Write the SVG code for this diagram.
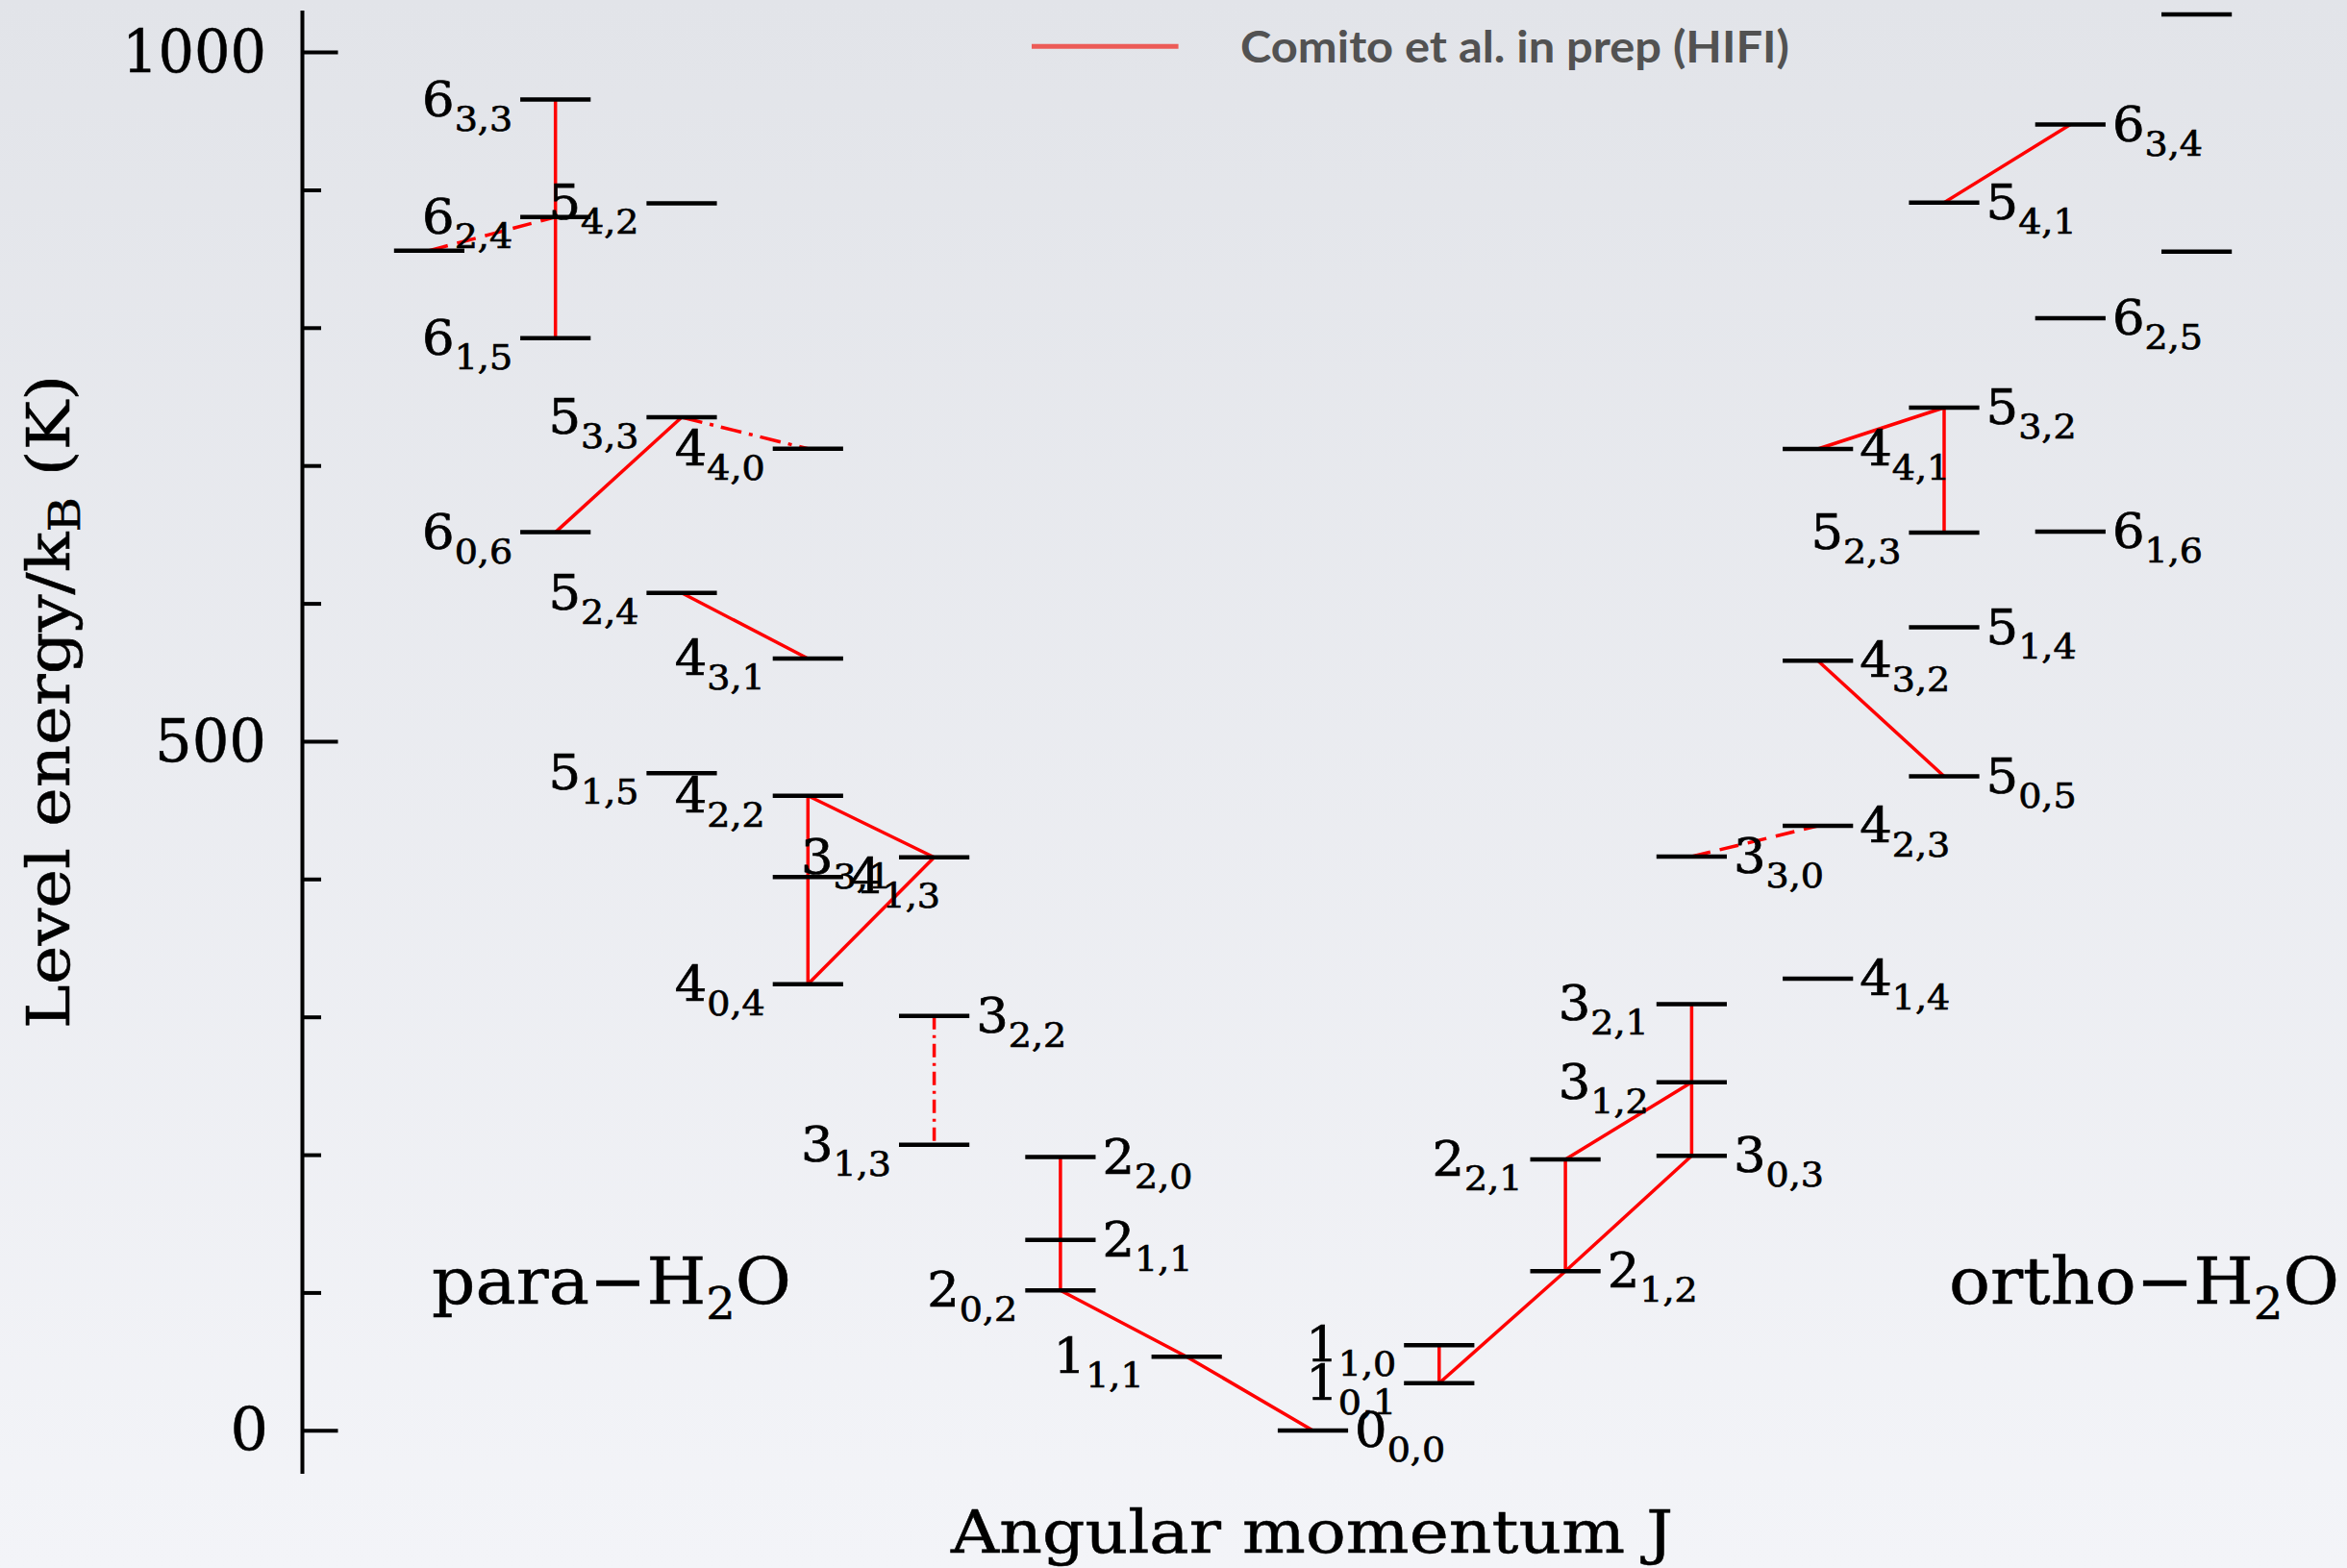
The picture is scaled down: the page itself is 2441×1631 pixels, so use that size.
<svg xmlns="http://www.w3.org/2000/svg" width="2441" height="1631" viewBox="0 0 2441 1631">
<defs>
<linearGradient id="bg" x1="0" y1="0" x2="0" y2="1">
<stop offset="0" stop-color="#e2e4e9"/>
<stop offset="1" stop-color="#f3f4f8"/>
</linearGradient>
<style>
.lvl{stroke:#000;stroke-width:4.5;}
.tr{stroke:#f00;stroke-width:3.5;fill:none;}
.dash{stroke-dasharray:20 10;}
.dd{stroke-dasharray:22 8 4 8;}
.lab{font-family:"DejaVu Serif",serif;font-size:50px;fill:#000;stroke:#000;stroke-width:0.7;}
.sub{font-size:36px;}
.ax{stroke:#000;stroke-width:4;}
.big{font-family:"DejaVu Serif",serif;fill:#000;stroke:#000;stroke-width:0.5;}
</style>
</defs>
<rect x="0" y="0" width="2441" height="1631" fill="url(#bg)"/>

<g id="axis">
<line class="ax" x1="314.5" y1="11" x2="314.5" y2="1533"/>
<line class="ax" x1="314.5" y1="54.6" x2="351.5" y2="54.6"/>
<line class="ax" x1="314.5" y1="198" x2="334" y2="198"/>
<line class="ax" x1="314.5" y1="341.3" x2="334" y2="341.3"/>
<line class="ax" x1="314.5" y1="484.7" x2="334" y2="484.7"/>
<line class="ax" x1="314.5" y1="628.1" x2="334" y2="628.1"/>
<line class="ax" x1="314.5" y1="771.5" x2="351.5" y2="771.5"/>
<line class="ax" x1="314.5" y1="914.8" x2="334" y2="914.8"/>
<line class="ax" x1="314.5" y1="1058.2" x2="334" y2="1058.2"/>
<line class="ax" x1="314.5" y1="1201.6" x2="334" y2="1201.6"/>
<line class="ax" x1="314.5" y1="1344.9" x2="334" y2="1344.9"/>
<line class="ax" x1="314.5" y1="1488.3" x2="351.5" y2="1488.3"/>
<text class="big" x="277" y="75" font-size="62" text-anchor="end" textLength="150" lengthAdjust="spacingAndGlyphs">1000</text>
<text class="big" x="277" y="792" font-size="62" text-anchor="end" textLength="116" lengthAdjust="spacingAndGlyphs">500</text>
<text class="big" x="279" y="1508" font-size="62" text-anchor="end">0</text>
<text class="big" font-size="61" transform="translate(72,730) rotate(-90)" text-anchor="middle" textLength="680" lengthAdjust="spacingAndGlyphs">Level energy/k<tspan font-size="44" dy="11">B</tspan><tspan dy="-11"> (K)</tspan></text>
<text class="big" x="989" y="1615" font-size="61" textLength="751" lengthAdjust="spacingAndGlyphs">Angular momentum J</text>
</g>

<g id="species-labels">
<text class="big" x="449" y="1356" font-size="68" textLength="374" lengthAdjust="spacingAndGlyphs">para−H<tspan font-size="46" dy="16">2</tspan><tspan dy="-16">O</tspan></text>
<text class="big" x="2027" y="1356" font-size="68" textLength="406" lengthAdjust="spacingAndGlyphs">ortho−H<tspan font-size="46" dy="16">2</tspan><tspan dy="-16">O</tspan></text>
</g>

<g id="legend">
<line x1="1073" y1="48.3" x2="1225.6" y2="48.3" stroke="#ec5b57" stroke-width="5"/>
<text x="1290" y="65" font-family="Lato, 'Open Sans', sans-serif" font-weight="700" font-size="46" fill="#525252" textLength="571" lengthAdjust="spacingAndGlyphs">Comito et al. in prep (HIFI)</text>
</g>

<g id="connectors">
<line class="tr" x1="577.7" y1="103.6" x2="577.7" y2="351.8" stroke-width="2.8"/>
<line class="tr dash" x1="446.4" y1="260.7" x2="577.7" y2="225.7"/>
<line class="tr" x1="577.7" y1="553.6" x2="709" y2="434"/>
<line class="tr dd" x1="709" y1="434" x2="840.3" y2="466.8"/>
<line class="tr" x1="709" y1="616.8" x2="840.3" y2="685"/>
<line class="tr" x1="840.3" y1="827.7" x2="971.6" y2="891.7"/>
<line class="tr" x1="971.6" y1="891.7" x2="840.3" y2="1023.7"/>
<line class="tr" x1="840.3" y1="827.7" x2="840.3" y2="1023.7"/>
<line class="tr" x1="971.6" y1="1056.7" x2="971.6" y2="1190.7" stroke-width="2.8" style="stroke-dasharray:14 6 3 6"/>
<line class="tr" x1="1102.9" y1="1203.5" x2="1102.9" y2="1342.3" stroke-width="2.8"/>
<polyline class="tr" points="1102.9,1342.3 1234.2,1411.2 1365.5,1488"/>
<line class="tr" x1="1496.8" y1="1399.3" x2="1496.8" y2="1438.7" stroke-width="2.8"/>
<line class="tr" x1="1496.8" y1="1438.7" x2="1628.1" y2="1322.3"/>
<line class="tr" x1="1628.1" y1="1206" x2="1628.1" y2="1322.3"/>
<line class="tr" x1="1628.1" y1="1206" x2="1759.4" y2="1125.7"/>
<line class="tr" x1="1628.1" y1="1322.3" x2="1759.4" y2="1202.3"/>
<line class="tr" x1="1759.4" y1="1044.4" x2="1759.4" y2="1125.7" stroke-width="2.8"/>
<line class="tr" x1="1759.4" y1="1125.7" x2="1759.4" y2="1202.3" stroke-width="2.8"/>
<line class="tr dash" x1="1759.4" y1="891" x2="1890.7" y2="859.1"/>
<line class="tr" x1="1890.7" y1="687.3" x2="2022" y2="807.5"/>
<line class="tr" x1="1890.7" y1="467" x2="2022" y2="424"/>
<line class="tr" x1="2022" y1="424" x2="2022" y2="554" stroke-width="2.8"/>
<line class="tr" x1="2022" y1="210.7" x2="2153.3" y2="129.6"/>
</g>

<g id="p-6_3_3"><line class="lvl" x1="541.1" y1="103.6" x2="614.3" y2="103.6"/><text class="lab" x="439.1" y="120.6" textLength="94" lengthAdjust="spacingAndGlyphs">6<tspan class="sub" dy="15">3,3</tspan></text></g>
<g id="p-6_2_4"><line class="lvl" x1="541.1" y1="225.7" x2="614.3" y2="225.7"/><text class="lab" x="439.1" y="242.7" textLength="94" lengthAdjust="spacingAndGlyphs">6<tspan class="sub" dy="15">2,4</tspan></text></g>
<g id="p-7_1_7"><line class="lvl" x1="409.8" y1="260.7" x2="483" y2="260.7"/></g>
<g id="p-5_4_2"><line class="lvl" x1="672.4" y1="211.4" x2="745.6" y2="211.4"/><text class="lab" x="570.4" y="228.4" textLength="94" lengthAdjust="spacingAndGlyphs">5<tspan class="sub" dy="15">4,2</tspan></text></g>
<g id="p-6_1_5"><line class="lvl" x1="541.1" y1="351.8" x2="614.3" y2="351.8"/><text class="lab" x="439.1" y="368.8" textLength="94" lengthAdjust="spacingAndGlyphs">6<tspan class="sub" dy="15">1,5</tspan></text></g>
<g id="p-5_3_3"><line class="lvl" x1="672.4" y1="434" x2="745.6" y2="434"/><text class="lab" x="570.4" y="451" textLength="94" lengthAdjust="spacingAndGlyphs">5<tspan class="sub" dy="15">3,3</tspan></text></g>
<g id="p-4_4_0"><line class="lvl" x1="803.7" y1="466.8" x2="876.9" y2="466.8"/><text class="lab" x="701.7" y="483.8" textLength="94" lengthAdjust="spacingAndGlyphs">4<tspan class="sub" dy="15">4,0</tspan></text></g>
<g id="p-6_0_6"><line class="lvl" x1="541.1" y1="553.6" x2="614.3" y2="553.6"/><text class="lab" x="439.1" y="570.6" textLength="94" lengthAdjust="spacingAndGlyphs">6<tspan class="sub" dy="15">0,6</tspan></text></g>
<g id="p-5_2_4"><line class="lvl" x1="672.4" y1="616.8" x2="745.6" y2="616.8"/><text class="lab" x="570.4" y="633.8" textLength="94" lengthAdjust="spacingAndGlyphs">5<tspan class="sub" dy="15">2,4</tspan></text></g>
<g id="p-4_3_1"><line class="lvl" x1="803.7" y1="685" x2="876.9" y2="685"/><text class="lab" x="701.7" y="702" textLength="94" lengthAdjust="spacingAndGlyphs">4<tspan class="sub" dy="15">3,1</tspan></text></g>
<g id="p-5_1_5"><line class="lvl" x1="672.4" y1="804.3" x2="745.6" y2="804.3"/><text class="lab" x="570.4" y="821.3" textLength="94" lengthAdjust="spacingAndGlyphs">5<tspan class="sub" dy="15">1,5</tspan></text></g>
<g id="p-4_2_2"><line class="lvl" x1="803.7" y1="827.7" x2="876.9" y2="827.7"/><text class="lab" x="701.7" y="844.7" textLength="94" lengthAdjust="spacingAndGlyphs">4<tspan class="sub" dy="15">2,2</tspan></text></g>
<g id="p-3_3_1"><line class="lvl" x1="935" y1="891.7" x2="1008.2" y2="891.7"/><text class="lab" x="833" y="908.7" textLength="94" lengthAdjust="spacingAndGlyphs">3<tspan class="sub" dy="15">3,1</tspan></text></g>
<g id="p-4_1_3"><line class="lvl" x1="803.7" y1="912.3" x2="876.9" y2="912.3"/><text class="lab" x="883.9" y="929.3" textLength="94" lengthAdjust="spacingAndGlyphs">4<tspan class="sub" dy="15">1,3</tspan></text></g>
<g id="p-4_0_4"><line class="lvl" x1="803.7" y1="1023.7" x2="876.9" y2="1023.7"/><text class="lab" x="701.7" y="1040.7" textLength="94" lengthAdjust="spacingAndGlyphs">4<tspan class="sub" dy="15">0,4</tspan></text></g>
<g id="p-3_2_2"><line class="lvl" x1="935" y1="1056.7" x2="1008.2" y2="1056.7"/><text class="lab" x="1015.2" y="1073.7" textLength="94" lengthAdjust="spacingAndGlyphs">3<tspan class="sub" dy="15">2,2</tspan></text></g>
<g id="p-3_1_3"><line class="lvl" x1="935" y1="1190.7" x2="1008.2" y2="1190.7"/><text class="lab" x="833" y="1207.7" textLength="94" lengthAdjust="spacingAndGlyphs">3<tspan class="sub" dy="15">1,3</tspan></text></g>
<g id="p-2_2_0"><line class="lvl" x1="1066.3" y1="1203.5" x2="1139.5" y2="1203.5"/><text class="lab" x="1146.5" y="1220.5" textLength="94" lengthAdjust="spacingAndGlyphs">2<tspan class="sub" dy="15">2,0</tspan></text></g>
<g id="p-2_1_1"><line class="lvl" x1="1066.3" y1="1289.7" x2="1139.5" y2="1289.7"/><text class="lab" x="1146.5" y="1306.7" textLength="94" lengthAdjust="spacingAndGlyphs">2<tspan class="sub" dy="15">1,1</tspan></text></g>
<g id="p-2_0_2"><line class="lvl" x1="1066.3" y1="1342.3" x2="1139.5" y2="1342.3"/><text class="lab" x="964.3" y="1359.3" textLength="94" lengthAdjust="spacingAndGlyphs">2<tspan class="sub" dy="15">0,2</tspan></text></g>
<g id="p-1_1_1"><line class="lvl" x1="1197.6" y1="1411.2" x2="1270.8" y2="1411.2"/><text class="lab" x="1095.6" y="1428.2" textLength="94" lengthAdjust="spacingAndGlyphs">1<tspan class="sub" dy="15">1,1</tspan></text></g>
<g id="p-0_0_0"><line class="lvl" x1="1328.9" y1="1488" x2="1402.1" y2="1488"/><text class="lab" x="1409.1" y="1505" textLength="94" lengthAdjust="spacingAndGlyphs">0<tspan class="sub" dy="15">0,0</tspan></text></g>

<g id="o-1_1_0"><line class="lvl" x1="1460.2" y1="1399.3" x2="1533.4" y2="1399.3"/><text class="lab" x="1358.2" y="1416.3" textLength="94" lengthAdjust="spacingAndGlyphs">1<tspan class="sub" dy="15">1,0</tspan></text></g>
<g id="o-1_0_1"><line class="lvl" x1="1460.2" y1="1438.7" x2="1533.4" y2="1438.7"/><text class="lab" x="1358.2" y="1455.7" textLength="94" lengthAdjust="spacingAndGlyphs">1<tspan class="sub" dy="15">0,1</tspan></text></g>
<g id="o-2_2_1"><line class="lvl" x1="1591.5" y1="1206" x2="1664.7" y2="1206"/><text class="lab" x="1489.5" y="1223" textLength="94" lengthAdjust="spacingAndGlyphs">2<tspan class="sub" dy="15">2,1</tspan></text></g>
<g id="o-2_1_2"><line class="lvl" x1="1591.5" y1="1322.3" x2="1664.7" y2="1322.3"/><text class="lab" x="1671.7" y="1339.3" textLength="94" lengthAdjust="spacingAndGlyphs">2<tspan class="sub" dy="15">1,2</tspan></text></g>
<g id="o-3_2_1"><line class="lvl" x1="1722.8" y1="1044.4" x2="1796" y2="1044.4"/><text class="lab" x="1620.8" y="1061.4" textLength="94" lengthAdjust="spacingAndGlyphs">3<tspan class="sub" dy="15">2,1</tspan></text></g>
<g id="o-3_1_2"><line class="lvl" x1="1722.8" y1="1125.7" x2="1796" y2="1125.7"/><text class="lab" x="1620.8" y="1142.7" textLength="94" lengthAdjust="spacingAndGlyphs">3<tspan class="sub" dy="15">1,2</tspan></text></g>
<g id="o-3_0_3"><line class="lvl" x1="1722.8" y1="1202.3" x2="1796" y2="1202.3"/><text class="lab" x="1803" y="1219.3" textLength="94" lengthAdjust="spacingAndGlyphs">3<tspan class="sub" dy="15">0,3</tspan></text></g>
<g id="o-3_3_0"><line class="lvl" x1="1722.8" y1="891" x2="1796" y2="891"/><text class="lab" x="1803" y="908" textLength="94" lengthAdjust="spacingAndGlyphs">3<tspan class="sub" dy="15">3,0</tspan></text></g>
<g id="o-4_1_4"><line class="lvl" x1="1854.1" y1="1017.9" x2="1927.3" y2="1017.9"/><text class="lab" x="1934.3" y="1034.9" textLength="94" lengthAdjust="spacingAndGlyphs">4<tspan class="sub" dy="15">1,4</tspan></text></g>
<g id="o-4_2_3"><line class="lvl" x1="1854.1" y1="859.1" x2="1927.3" y2="859.1"/><text class="lab" x="1934.3" y="876.1" textLength="94" lengthAdjust="spacingAndGlyphs">4<tspan class="sub" dy="15">2,3</tspan></text></g>
<g id="o-4_3_2"><line class="lvl" x1="1854.1" y1="687.3" x2="1927.3" y2="687.3"/><text class="lab" x="1934.3" y="704.3" textLength="94" lengthAdjust="spacingAndGlyphs">4<tspan class="sub" dy="15">3,2</tspan></text></g>
<g id="o-4_4_1"><line class="lvl" x1="1854.1" y1="467" x2="1927.3" y2="467"/><text class="lab" x="1934.3" y="484" textLength="94" lengthAdjust="spacingAndGlyphs">4<tspan class="sub" dy="15">4,1</tspan></text></g>
<g id="o-5_0_5"><line class="lvl" x1="1985.4" y1="807.5" x2="2058.6" y2="807.5"/><text class="lab" x="2065.6" y="824.5" textLength="94" lengthAdjust="spacingAndGlyphs">5<tspan class="sub" dy="15">0,5</tspan></text></g>
<g id="o-5_1_4"><line class="lvl" x1="1985.4" y1="652.5" x2="2058.6" y2="652.5"/><text class="lab" x="2065.6" y="669.5" textLength="94" lengthAdjust="spacingAndGlyphs">5<tspan class="sub" dy="15">1,4</tspan></text></g>
<g id="o-5_2_3"><line class="lvl" x1="1985.4" y1="554" x2="2058.6" y2="554"/><text class="lab" x="1883.4" y="571" textLength="94" lengthAdjust="spacingAndGlyphs">5<tspan class="sub" dy="15">2,3</tspan></text></g>
<g id="o-5_3_2"><line class="lvl" x1="1985.4" y1="424" x2="2058.6" y2="424"/><text class="lab" x="2065.6" y="441" textLength="94" lengthAdjust="spacingAndGlyphs">5<tspan class="sub" dy="15">3,2</tspan></text></g>
<g id="o-5_4_1"><line class="lvl" x1="1985.4" y1="210.7" x2="2058.6" y2="210.7"/><text class="lab" x="2065.6" y="227.7" textLength="94" lengthAdjust="spacingAndGlyphs">5<tspan class="sub" dy="15">4,1</tspan></text></g>
<g id="o-6_1_6"><line class="lvl" x1="2116.7" y1="553" x2="2189.9" y2="553"/><text class="lab" x="2196.9" y="570" textLength="94" lengthAdjust="spacingAndGlyphs">6<tspan class="sub" dy="15">1,6</tspan></text></g>
<g id="o-6_2_5"><line class="lvl" x1="2116.7" y1="331" x2="2189.9" y2="331"/><text class="lab" x="2196.9" y="348" textLength="94" lengthAdjust="spacingAndGlyphs">6<tspan class="sub" dy="15">2,5</tspan></text></g>
<g id="o-6_3_4"><line class="lvl" x1="2116.7" y1="129.6" x2="2189.9" y2="129.6"/><text class="lab" x="2196.9" y="146.6" textLength="94" lengthAdjust="spacingAndGlyphs">6<tspan class="sub" dy="15">3,4</tspan></text></g>
<g id="o-7_0_7"><line class="lvl" x1="2248" y1="261.8" x2="2321.2" y2="261.8"/></g>
<g id="o-7_1_6"><line class="lvl" x1="2248" y1="15" x2="2321.2" y2="15"/></g>
</svg>
